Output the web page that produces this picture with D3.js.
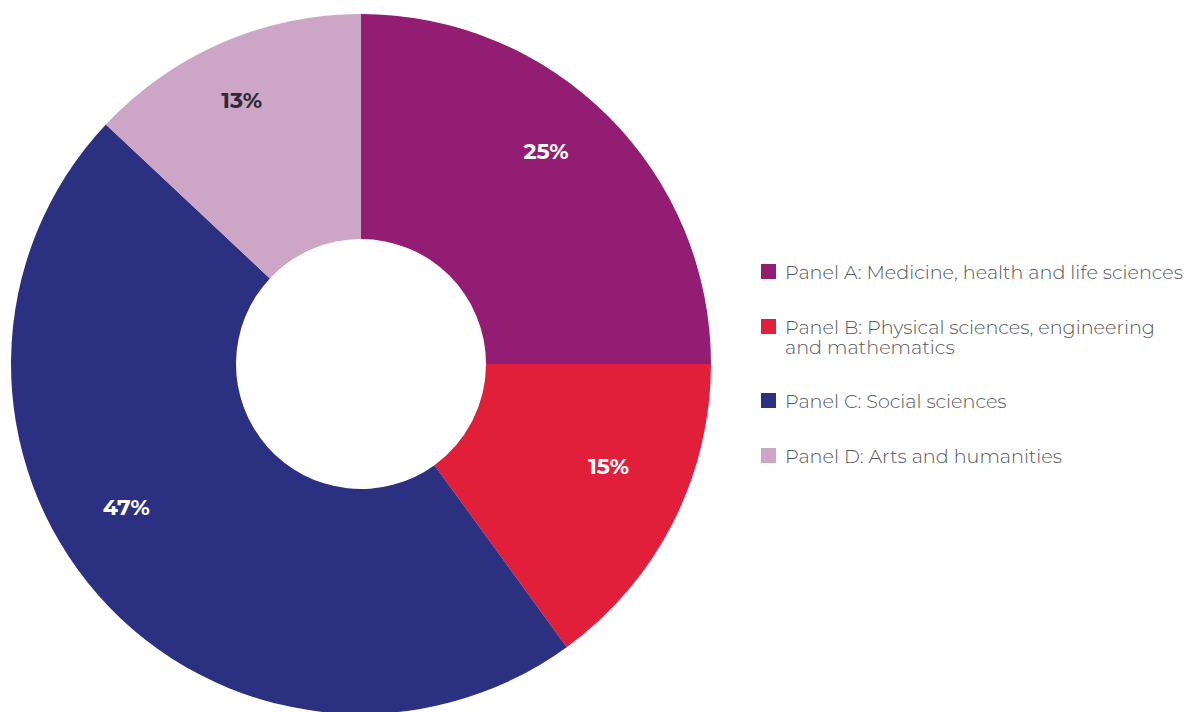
<!DOCTYPE html>
<html>
<head>
<meta charset="utf-8">
<script src="https://cdn.jsdelivr.net/npm/d3@7"></script>
<style>
  html, body { margin: 0; padding: 0; background: #ffffff; }
  svg { display: block; }
</style>
</head>
<body>
<svg id="chart" width="1190" height="712"></svg>
<script>
// Share of submissions by main panel
const categories = [
  "Panel A: Medicine, health and life sciences",
  "Panel B: Physical sciences, engineering and mathematics",
  "Panel C: Social sciences",
  "Panel D: Arts and humanities"
];
const shares = [25, 15, 47, 13];
const legendLines = [
  ["Panel A: Medicine, health and life sciences"],
  ["Panel B: Physical sciences, engineering", "and mathematics"],
  ["Panel C: Social sciences"],
  ["Panel D: Arts and humanities"]
];
const colors = ["#931d73", "#e21f3b", "#2b3180", "#cda5c6"];
const labelColors = ["#ffffff", "#ffffff", "#ffffff", "#2a2a3a"];
// label placement: angular nudge (degrees) and distance from the centre
const labelNudge = [-4, -4.5, 10, -1];
const labelRadius = [282, 268, 275, 289];

const svg = d3.select("#chart");
const cx = 361, cy = 364;
const outerR = 350, innerR = 125;

const pie = d3.pie().sort(null).value(d => d.value);
const data = pie(categories.map((c, i) => ({ name: c, value: shares[i], i })));
const arc = d3.arc().innerRadius(innerR).outerRadius(outerR);

const g = svg.append("g").attr("transform", `translate(${cx},${cy})`);

g.selectAll("path.slice")
  .data(data)
  .join("path")
  .attr("class", "slice")
  .attr("d", arc)
  .attr("fill", d => colors[d.data.i]);

g.selectAll("text.pct")
  .data(data)
  .join("text")
  .attr("class", "pct")
  .attr("transform", d => {
    const a = (d.startAngle + d.endAngle) / 2 + labelNudge[d.data.i] * Math.PI / 180;
    const r = labelRadius[d.data.i];
    return `translate(${r * Math.sin(a)},${-r * Math.cos(a)})`;
  })
  .attr("text-anchor", "middle")
  .attr("dominant-baseline", "central")
  .attr("font-family", "Montserrat, 'Open Sans', sans-serif")
  .attr("font-weight", 700)
  .attr("font-size", 22)
  .attr("fill", d => labelColors[d.data.i])
  .text(d => d.data.value + "%");

// Legend
const legendX = 761;
const rowY = [264, 319, 393, 448];
const legend = svg.append("g");
legendLines.forEach((lines, i) => {
  legend.append("rect")
    .attr("x", legendX).attr("y", rowY[i])
    .attr("width", 15).attr("height", 15)
    .attr("fill", colors[i]);
  const t = legend.append("text")
    .attr("x", legendX + 24)
    .attr("y", rowY[i] + 15)
    .attr("font-family", "Montserrat, 'Open Sans', sans-serif")
    .attr("font-weight", 300)
    .attr("font-size", 19.2)
    .attr("fill", "#55565a");
  lines.forEach((line, j) => {
    t.append("tspan")
      .attr("x", legendX + 24)
      .attr("dy", j === 0 ? 0 : 20)
      .text(line);
  });
});
</script>
</body>
</html>
